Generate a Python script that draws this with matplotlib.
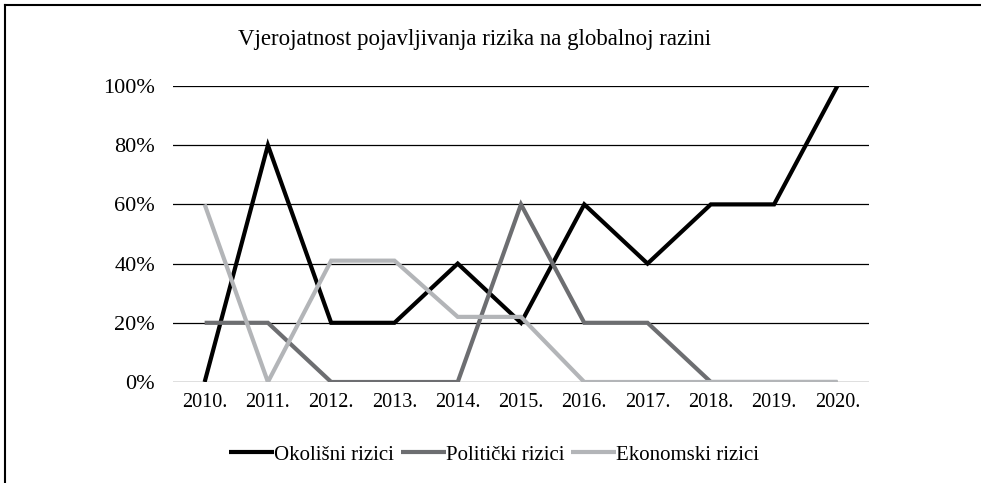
import matplotlib
matplotlib.use("Agg")
import matplotlib.pyplot as plt
from matplotlib.lines import Line2D

years = ["2010.", "2011.", "2012.", "2013.", "2014.", "2015.",
         "2016.", "2017.", "2018.", "2019.", "2020."]
okolisni = [0, 80, 20, 20, 40, 20, 60, 40, 60, 60, 100]
politicki = [20, 20, 0, 0, 0, 60, 20, 20, 0, 0, 0]
ekonomski = [60, 0, 41, 41, 22, 22, 0, 0, 0, 0, 0]
yticks = [0, 20, 40, 60, 80, 100]

plt.rcParams["font.family"] = ["Liberation Serif", "DejaVu Serif"]

fig = plt.figure(figsize=(9.81, 4.83), dpi=100)
ax = fig.add_axes([173 / 981, 1 - 382 / 483, 696 / 981, 296 / 483])

x = range(len(years))
series = [
    (okolisni, "#000000", "Okolišni rizici"),
    (politicki, "#6d6e71", "Politički rizici"),
    (ekonomski, "#b3b5b8", "Ekonomski rizici"),
]
for vals, col, name in series:
    ax.plot(x, vals, color=col, lw=3.0, label=name,
            solid_capstyle="butt", solid_joinstyle="miter")

ax.set_xlim(-0.5, len(years) - 0.5)
ax.set_ylim(0, 100)
ax.set_yticks(yticks)
ax.set_yticklabels(["{}%".format(v) for v in yticks], fontsize=16)
ax.set_xticks(list(x))
ax.set_xticklabels(years, fontsize=14.5)
ax.tick_params(length=0)
ax.tick_params(axis="y", pad=13)
ax.tick_params(axis="x", pad=8)
ax.yaxis.grid(True, color="black", lw=0.9)
ax.set_axisbelow(True)
for s in ax.spines.values():
    s.set_visible(False)

fig.text(474 / 981, 1 - 40 / 483, "Vjerojatnost pojavljivanja rizika na globalnoj razini",
         ha="center", va="center", fontsize=16.5)

fig.legend(loc="center", bbox_to_anchor=(494 / 981, 1 - 455 / 483), ncol=3,
           frameon=False, fontsize=15, handlelength=2.15, handletextpad=0.0,
           columnspacing=0.35)

# border round the figure (left and top only)
fig.add_artist(Line2D([5 / 981, 5 / 981], [0, 1 - 5 / 483], color="black", lw=1.5,
                      transform=fig.transFigure))
fig.add_artist(Line2D([5 / 981, 1], [1 - 5 / 483, 1 - 5 / 483], color="black", lw=1.5,
                      transform=fig.transFigure))

fig.savefig("out.png", dpi=100)
